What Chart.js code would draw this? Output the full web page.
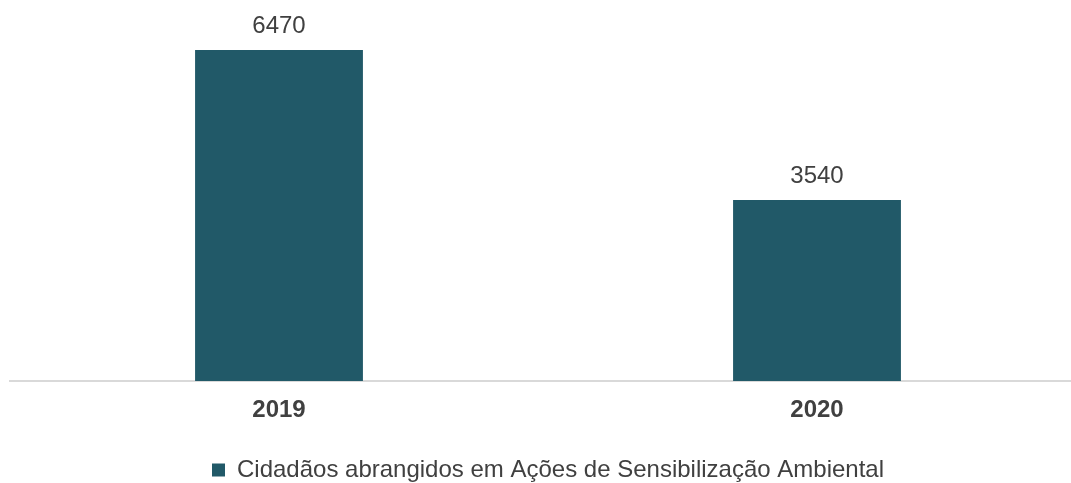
<!DOCTYPE html>
<html>
<head>
<meta charset="utf-8">
<script src="https://cdn.jsdelivr.net/npm/chart.js@4"></script>
<style>
  html, body { margin: 0; padding: 0; background: #fff; overflow: hidden; }
  #wrap { width: 1096px; height: 483px; }
</style>
</head>
<body>
<div id="wrap"><canvas id="grafico"></canvas></div>
<script>
// dados
var anos = ['2019', '2020'];
var cidadaos = [6470, 3540];
var nomeSerie = 'Cidadãos abrangidos em Ações de Sensibilização Ambiental';

var corBarra = '#215968';
var corTexto = '#404040';
var fonte = '"Liberation Sans", Arial, sans-serif';

// escreve o valor por cima de cada barra
var rotulosValor = {
  id: 'rotulosValor',
  afterDatasetsDraw: function (chart) {
    var ctx = chart.ctx;
    var meta = chart.getDatasetMeta(0);
    ctx.save();
    ctx.font = '24px ' + fonte;
    ctx.fillStyle = corTexto;
    ctx.textAlign = 'center';
    ctx.textBaseline = 'middle';
    meta.data.forEach(function (barra, i) {
      ctx.fillText(String(cidadaos[i]), barra.x, barra.y - 24);
    });
    ctx.restore();
  }
};

var ctx = document.getElementById('grafico').getContext('2d');
new Chart(ctx, {
  type: 'bar',
  data: {
    labels: anos,
    datasets: [{
      label: nomeSerie,
      data: cidadaos,
      backgroundColor: corBarra,
      barPercentage: 0.312,
      categoryPercentage: 1
    }]
  },
  options: {
    responsive: true,
    maintainAspectRatio: false,
    animation: false,
    layout: { padding: { left: 10, right: 10, top: 23, bottom: -9 } },
    scales: {
      x: {
        grid: { display: false, drawTicks: false },
        border: { display: true, color: '#d9d9d9', width: 2 },
        ticks: {
          color: corTexto,
          padding: 15,
          font: { family: fonte, size: 24, weight: 'bold' }
        },
        afterFit: function (escala) { escala.height = 77; }
      },
      y: {
        display: false,
        min: 0,
        max: 7000
      }
    },
    plugins: {
      legend: {
        position: 'bottom',
        labels: {
          color: corTexto,
          boxWidth: 13,
          boxHeight: 13,
          padding: 0,
          font: { family: fonte, size: 24, lineHeight: 1 }
        }
      },
      tooltip: { enabled: false }
    }
  },
  plugins: [rotulosValor]
});
</script>
</body>
</html>
